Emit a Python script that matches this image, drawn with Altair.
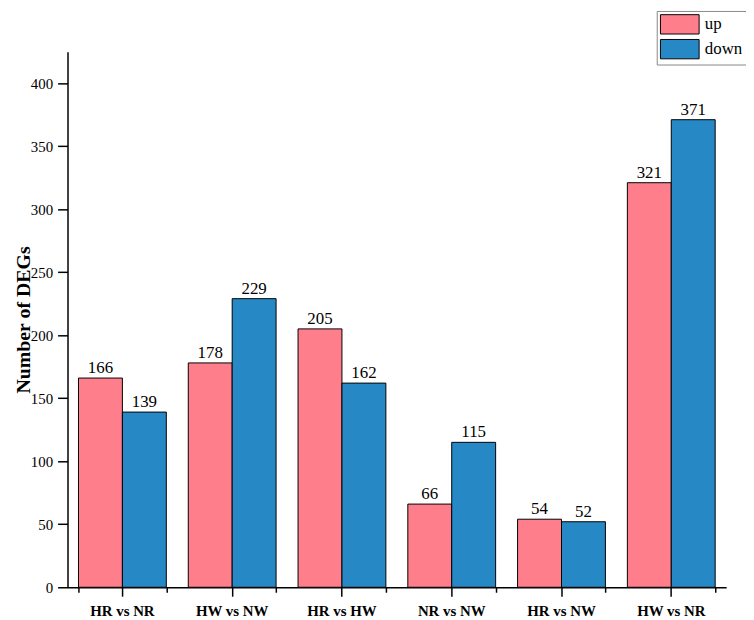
import altair as alt
import pandas as pd

comparisons = ["HR vs NR", "HW vs NW", "HR vs HW", "NR vs NW", "HR vs NW", "HW vs NR"]
up_counts = [166, 178, 205, 66, 54, 321]
down_counts = [139, 229, 162, 115, 52, 371]
directions = ["up", "down"]
colors = ["#FE7F8B", "#2689C6"]

rows = []
for c, u, d in zip(comparisons, up_counts, down_counts):
    rows.append({"comp": c, "dir": "up", "n": u})
    rows.append({"comp": c, "dir": "down", "n": d})
df = pd.DataFrame(rows)

FONT = "Liberation Serif"

x_main = alt.X(
    "comp:N",
    sort=comparisons,
    scale=alt.Scale(paddingInner=0.2, paddingOuter=0.1),
    axis=alt.Axis(
        title=None,
        labelFont=FONT,
        labelFontWeight="bold",
        labelFontSize=15,
        labelColor="black",
        labelAngle=0,
        labelPadding=7,
        tickSize=9,
        tickWidth=1.5,
        tickColor="black",
        domainColor="black",
        domainWidth=1.5,
        orient="bottom",
    ),
)
x_minor = alt.X(
    "comp:N",
    sort=comparisons,
    axis=alt.Axis(
        title=None,
        labels=False,
        domain=False,
        tickBand="extent",
        tickSize=5,
        tickWidth=1.5,
        tickColor="black",
        orient="bottom",
    ),
)
xoff = alt.XOffset("dir:N", sort=directions, scale=alt.Scale(paddingInner=0, paddingOuter=0))

y_enc = alt.Y(
    "n:Q",
    scale=alt.Scale(domain=[0, 425], nice=False),
    axis=alt.Axis(
        title="Number of DEGs",
        titleFont=FONT,
        titleFontWeight="bold",
        titleFontSize=20,
        titleColor="black",
        titlePadding=-3,
        values=list(range(0, 426, 25)),
        labelExpr="datum.value % 50 === 0 ? datum.label : ''",
        labelFont=FONT,
        labelFontSize=15,
        labelColor="black",
        labelPadding=5,
        tickSize={"condition": {"test": "datum.value % 50 === 0", "value": 10}, "value": 5},
        tickWidth=1.5,
        tickColor="black",
        domainColor="black",
        domainWidth=1.5,
        grid=False,
    ),
)

bars = alt.Chart(df).mark_bar(stroke="black", strokeWidth=1).encode(
    x=x_main,
    xOffset=xoff,
    y=y_enc,
    color=alt.Color(
        "dir:N",
        sort=directions,
        scale=alt.Scale(domain=directions, range=colors),
        legend=alt.Legend(
            title=None,
            orient="none",
            legendX=594,
            legendY=-41,
            strokeColor="#888888",
            padding=3,
            symbolType="M-1,-1L3,-1L3,1L-1,1Z",
            symbolSize=380,
            symbolStrokeColor="black",
            symbolStrokeWidth=1,
            labelFont=FONT,
            labelFontSize=17,
            labelColor="black",
            labelOffset=24.5,
            rowPadding=0,
        ),
    ),
)

labels = alt.Chart(df).mark_text(font=FONT, fontSize=17, color="black", dy=-10).encode(
    x=x_minor,
    xOffset=xoff,
    y=alt.Y("n:Q"),
    text=alt.Text("n:Q"),
)

chart = (
    alt.layer(bars, labels)
    .resolve_axis(x="independent")
    .properties(
        width=664,
        height=540,
        autosize=alt.AutoSizeParams(type="none"),
        padding={"left": 60, "top": 41.5, "right": 20, "bottom": 30},
    )
    .configure_view(stroke=None)
)

chart.save("out.html", embed_options={"renderer": "svg", "actions": False})
